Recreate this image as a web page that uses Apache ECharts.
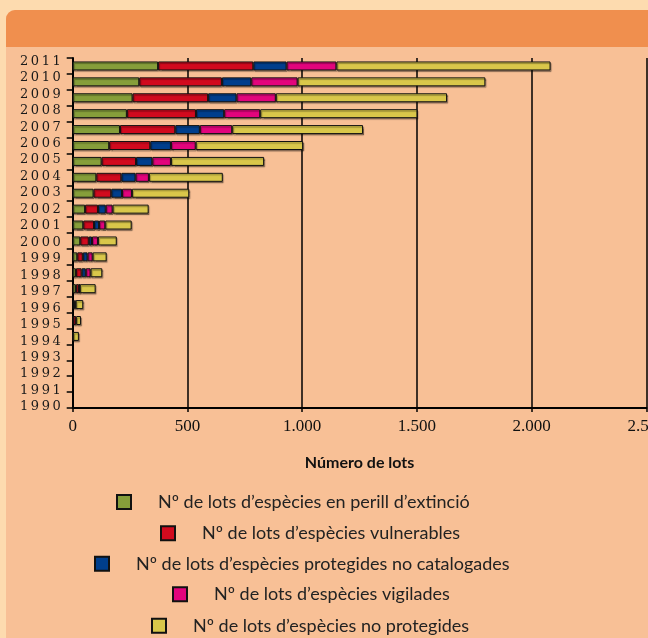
<!DOCTYPE html>
<html>
<head>
<meta charset="utf-8">
<script src="https://cdn.jsdelivr.net/npm/echarts@6/dist/echarts.min.js"></script>
<style>
html,body{margin:0;padding:0;background:#FDDBAF;}
#c{width:648px;height:638px;}
</style>
</head>
<body>
<div id="c"></div>
<script>
var years = ['1990','1991','1992','1993','1994','1995','1996','1997','1998','1999','2000','2001','2002','2003','2004','2005','2006','2007','2008','2009','2010','2011'];
var seriesNames = [
  'Nº de lots d’espècies en perill d’extinció',
  'Nº de lots d’espècies vulnerables',
  'Nº de lots d’espècies protegides no catalogades',
  'Nº de lots d’espècies vigilades',
  'Nº de lots d’espècies no protegides'
];
var perill     = [0,0,0,0, 2, 3, 4,14,14,20,33,46,54,91,103,126,159,206,236,261,290,372];
var vulnerable = [0,0,0,0, 0,12, 4,13,25,24,37,47,56,77,109,150,179,241,301,329,360,415];
var protegides = [0,0,0,0, 0, 0, 5, 2,18,21,14,22,34,47, 62, 71, 90,107,123,124,128,145];
var vigilades  = [0,0,0,0, 0, 0, 0, 2,21,22,26,27,30,43, 58, 81,108,141,157,171,202,217];
var noProteg   = [0,0,0,0,25,21,33,69,51,61,82,115,157,250,322,406,468,570,685,746,818,933];
var xTicks = [0,500,1000,1500,2000,2500];

var colors = ['#869E3A','#D10A1E','#003E8C','#E2047C','#D9C74A'];
var allData = [perill, vulnerable, protegides, vigilades, noProteg];

var chart = echarts.init(document.getElementById('c'));

var legendLeft = [116, 160, 94, 172, 151];
var legendCenter = [502.5, 533.7, 564.3, 594.7, 626.3];

var option = {
  backgroundColor: '#FDDBAF',
  animation: false,
  graphic: [
    {type:'rect', z:-10, shape:{x:6,y:10,width:660,height:650,r:[9,0,0,0]}, style:{fill:'#F8C096'}},
    {type:'rect', z:-9, shape:{x:6,y:10,width:660,height:37,r:[9,0,0,0]}, style:{fill:'#F08F4E'}}
  ],
  grid: [
    {left:72.7, right:1.5, top:58, bottom:230, outerBoundsMode:'none', containLabel:false},
    {left:72.7, right:1.5, top:61.3, bottom:231, outerBoundsMode:'none', containLabel:false}
  ],
  xAxis: [
    {
      type:'value', gridIndex:0, min:0, max:2500, interval:500,
      name:'Número de lots', nameLocation:'middle', nameGap:47,
      nameTextStyle:{fontFamily:'Lato', fontWeight:'bold', fontSize:16, color:'#111'},
      axisLine:{show:true, lineStyle:{color:'#000', width:2}},
      axisTick:{show:true, length:4, lineStyle:{color:'#000', width:1.5}},
      splitLine:{show:true, lineStyle:{color:'#000', width:1.5}},
      axisLabel:{
        margin:10, fontFamily:'Liberation Sans Narrow', fontSize:17, color:'#111',
        hideOverlap:false,
        formatter:function(v){ return v >= 1000 ? String(v).replace(/(\d)(\d{3})$/, '$1.$2') : String(v); }
      }
    },
    {type:'value', gridIndex:1, min:0, max:2500, show:false}
  ],
  yAxis: [
    {
      type:'category', gridIndex:0, data:years, boundaryGap:true,
      axisLine:{show:true, lineStyle:{color:'#000', width:2}},
      axisTick:{show:true, length:6, lineStyle:{color:'#000', width:1.5}},
      axisLabel:{show:false},
      splitLine:{show:false}
    },
    {
      type:'category', gridIndex:1, data:years, boundaryGap:false,
      axisLine:{show:false}, axisTick:{show:false}, splitLine:{show:false},
      axisLabel:{
        margin:12, interval:0,
        formatter:function(v){ return v.split('').map(function(ch){ return '{d|' + ch + '}'; }).join(''); },
        rich:{ d:{ width:10.8, fontFamily:'DejaVu Serif', fontSize:13, color:'#1a1a1a' } }
      }
    }
  ],
  legend: seriesNames.map(function(n, i){
    return {
      data:[n], left:legendLeft[i], top:legendCenter[i]-9.5, padding:0,
      icon:'rect', itemWidth:14, itemHeight:14, selectedMode:false,
      textStyle:{fontFamily:'Lato', fontSize:18, color:'#222', padding:[0,0,0,22]}
    };
  }),
  series: seriesNames.map(function(n, i){
    return {
      name:n, type:'bar', stack:'total', xAxisIndex:0, yAxisIndex:0,
      barWidth:9,
      data:allData[i].map(function(v){ return v === 0 ? '-' : v; }),
      itemStyle:{color:colors[i], borderColor:'#111', borderWidth:1,
        shadowColor:'rgba(0,0,0,0.35)', shadowOffsetX:1, shadowOffsetY:1.5, shadowBlur:1}
    };
  })
};
chart.setOption(option);
</script>
</body>
</html>
